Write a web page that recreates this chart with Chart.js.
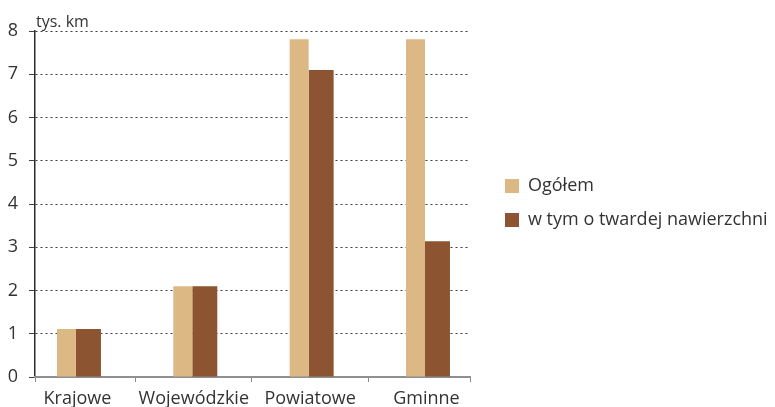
<!DOCTYPE html>
<html lang="pl">
<head>
  <meta charset="UTF-8">
  <title>Drogi publiczne</title>
  <script src="https://cdn.jsdelivr.net/npm/chart.js"></script>
  <style>
    html, body { margin: 0; padding: 0; background: #fff; }
    #wrap { width: 775px; height: 407px; }
  </style>
</head>
<body>
  <div id="wrap"><canvas id="roadsChart"></canvas></div>
  <script>
    // data (tys. km)
    const categories = ['Krajowe', 'Wojewódzkie', 'Powiatowe', 'Gminne'];
    const totalKm = [1.11, 2.10, 7.81, 7.81];
    const hardSurfaceKm = [1.11, 2.10, 7.10, 3.14];
    const seriesNames = ['Ogółem', 'w tym o twardej nawierzchni'];
    const yTicks = [0, 1, 2, 3, 4, 5, 6, 7, 8];
    const unitLabel = 'tys. km';

    // x range in category units, boundaries between groups at i + 0.5
    const xMin = -0.365;
    const xMax = 3.374;
    const boundaries = [xMin, 0.5, 1.5, 2.5, xMax];

    const FONT = "'Open Sans', sans-serif";
    const TEXT = '#333333';

    const toPoints = arr => arr.map((v, i) => ({ x: i, y: v }));

    // puts the legend at a fixed width and nudges its items
    const legendPlace = {
      id: 'legendPlace',
      afterInit(chart, args, opts) {
        const lg = chart.legend;
        if (!lg) return;
        const fit = lg.fit;
        lg.fit = function () { fit.call(this); this.width = opts.width; };
      },
      afterLayout(chart, args, opts) {
        const lg = chart.legend;
        if (!lg) return;
        lg.left += opts.shiftX;
        lg.right += opts.shiftX;
        lg.top += opts.shiftY;
        lg.bottom += opts.shiftY;
      }
    };

    // unit text above the y axis
    const unitText = {
      id: 'unitText',
      afterDraw(chart) {
        const { ctx, chartArea } = chart;
        ctx.save();
        ctx.font = '16px ' + FONT;
        ctx.fillStyle = TEXT;
        ctx.textAlign = 'left';
        ctx.textBaseline = 'alphabetic';
        ctx.fillText(unitLabel, chartArea.left + 1, chartArea.top - 4);
        ctx.restore();
      }
    };

    new Chart(document.getElementById('roadsChart'), {
      type: 'bar',
      data: {
        datasets: [{
          // first dataset is painted on top, so it is the narrower one
          label: seriesNames[0],
          data: toPoints(totalKm),
          backgroundColor: '#dcb884',
          barPercentage: 0.864,
          xAxisID: 'x'
        }, {
          label: seriesNames[1],
          data: toPoints(hardSurfaceKm),
          backgroundColor: '#8c5430',
          barPercentage: 1.136,
          xAxisID: 'x'
        }]
      },
      options: {
        responsive: true,
        maintainAspectRatio: false,
        animation: false,
        categoryPercentage: 0.378,
        layout: { padding: { top: 31, right: 0, bottom: 0, left: 0 } },
        plugins: {
          legendPlace: { width: 305, shiftX: 19, shiftY: -16 },
          tooltip: { enabled: false },
          legend: {
            position: 'right',
            align: 'center',
            labels: {
              boxWidth: 14,
              boxHeight: 14,
              padding: 16,
              color: TEXT,
              font: { family: FONT, size: 18 }
            }
          }
        },
        scales: {
          y: {
            min: 0,
            max: 8,
            afterBuildTicks: axis => { axis.ticks = yTicks.map(v => ({ value: v })); },
            afterFit: axis => { axis.width = 35; },
            ticks: {
              color: TEXT,
              padding: 11,
              font: { family: FONT, size: 18 }
            },
            grid: {
              color: c => (c.tick && c.tick.value === 0) ? 'rgba(0,0,0,0)' : '#3c3c3c',
              lineWidth: 1,
              tickColor: '#444444',
              tickLength: 6
            },
            border: { display: true, color: '#2b2b2b', width: 1.5, dash: [2, 3] }
          },
          xb: {
            type: 'linear',
            position: 'bottom',
            weight: 0,
            offset: false,
            min: xMin,
            max: xMax,
            afterBuildTicks: axis => { axis.ticks = boundaries.map(v => ({ value: v })); },
            afterFit: axis => { axis.height = 6; },
            ticks: { display: false },
            grid: {
              offset: false,
              drawOnChartArea: false,
              drawTicks: true,
              tickLength: 5,
              tickColor: '#8a8a8a',
              tickWidth: 1
            },
            border: { display: true, color: '#8f8f8f', width: 2 }
          },
          x: {
            type: 'linear',
            position: 'bottom',
            weight: 1,
            offset: false,
            min: xMin,
            max: xMax,
            afterBuildTicks: axis => { axis.ticks = categories.map((c, i) => ({ value: i })); },
            afterFit: axis => { axis.height = 24; },
            ticks: {
              autoSkip: false,
              maxRotation: 0,
              padding: 5,
              color: TEXT,
              font: { family: FONT, size: 18 },
              callback: v => categories[v] !== undefined ? categories[v] : ''
            },
            grid: { display: false, drawTicks: false, offset: false },
            border: { display: false }
          }
        }
      },
      plugins: [legendPlace, unitText]
    });
  </script>
</body>
</html>
